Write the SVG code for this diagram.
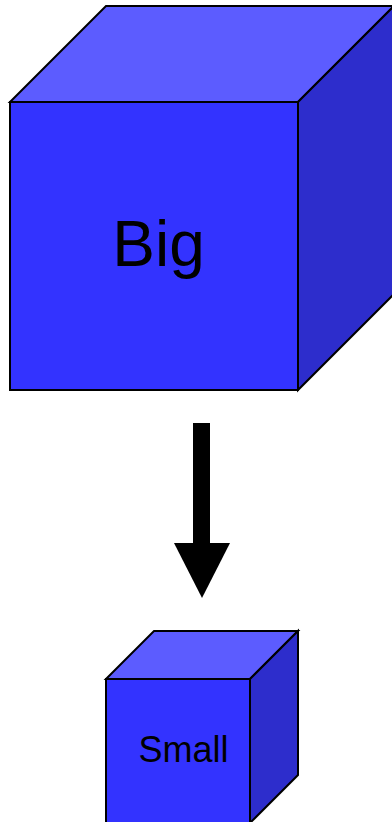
<svg xmlns="http://www.w3.org/2000/svg" width="392" height="822" viewBox="0 0 392 822">
<style>
.front{fill:#3333ff;stroke:#000;stroke-width:2;stroke-linejoin:miter}
.top{fill:#5c5cff;stroke:#000;stroke-width:2}
.side{fill:#2d2dcc;stroke:#000;stroke-width:2}
.lbl{font-family:"Liberation Sans",Arial,sans-serif;fill:#000;text-anchor:middle}
</style>
<rect width="392" height="822" fill="#fff"/>
<g id="big">
<polygon class="top" points="10,102 106,6 394,6 298,102"/>
<polygon class="side" points="298,102 394,6 394,294 298,390"/>
<rect class="front" x="10" y="102" width="288" height="288"/>
<text class="lbl" x="158.5" y="266" font-size="64">Big</text>
</g>
<g id="connectors">
<rect x="193" y="423" width="17" height="121" fill="#000"/>
<polygon points="174,543 230,543 202,598" fill="#000"/>
</g>
<g id="small">
<polygon class="top" points="106,679 154,631 298,631 250,679"/>
<polygon class="side" points="250,679 298,631 298,775 250,823"/>
<rect class="front" x="106" y="679" width="144" height="144"/>
<text class="lbl" x="183.5" y="762" font-size="36">Small</text>
</g>
</svg>
